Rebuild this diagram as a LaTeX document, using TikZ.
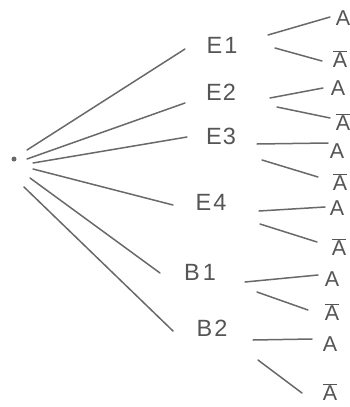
\documentclass[tikz,border=0pt]{standalone}
\usepackage{fontspec}
\setmainfont{Liberation Sans}
\definecolor{ink}{RGB}{105,105,105}
\definecolor{txt}{RGB}{85,85,85}
\newcommand\nA{$\overline{\mbox{A}}$}
\tikzset{
  branch/.style={draw=ink, line width=1.5pt, line cap=round},
  evt/.style={inner sep=0pt, text height=17pt, text depth=0pt, font=\fontsize{23.5}{24}\selectfont, text=txt},
  res/.style={inner sep=0pt, text height=15.5pt, text depth=0pt, font=\fontsize{21.5}{22}\selectfont, text=txt},
  dot/.style={circle, fill=ink, inner sep=0pt, minimum size=5pt}
}
\begin{document}
\begin{tikzpicture}[x=1pt,y=-1pt]
\useasboundingbox (0,0) rectangle (350,407);
\node[dot] (root) at (14,159) {};
% level 1
\node[evt] (e1) at (222,45) {E\kern2pt1};
\node[evt] (e2) at (221,92) {E\kern1pt2};
\node[evt] (e3) at (221,136) {E\kern1pt3};
\node[evt] (e4) at (211,202) {E\kern2pt4};
\node[evt] (b1) at (200,272) {B\kern3pt1};
\node[evt] (b2) at (212,328) {B\kern2pt2};
% level 2
\node[res] (a1) at (343,18) {A};
\node[res] (n1) at (340,60) {\nA};
\node[res] (a2) at (338,88) {A};
\node[res] (n2) at (343,123) {\nA};
\node[res] (a3) at (337,151) {A};
\node[res] (n3) at (340,183) {\nA};
\node[res] (a4) at (337,208) {A};
\node[res] (n4) at (339,248) {\nA};
\node[res] (a5) at (332,279) {A};
\node[res] (n5) at (332,313) {\nA};
\node[res] (a6) at (330,344) {A};
\node[res] (n6) at (330,393) {\nA};
% root branches
\draw[branch] ([shift={(13,-9)}]root.center) -- ([shift={(-37,4)}]e1.center);
\draw[branch] ([shift={(13,0)}]root.center) -- ([shift={(-36,11)}]e2.center);
\draw[branch] ([shift={(19,4)}]root.center) -- ([shift={(-34,1)}]e3.center);
\draw[branch] ([shift={(19,10)}]root.center) -- ([shift={(-38,3)}]e4.center);
\draw[branch] ([shift={(16,19)}]root.center) -- ([shift={(-40,1)}]b1.center);
\draw[branch] ([shift={(10,28)}]root.center) -- ([shift={(-39,3)}]b2.center);
% second level branches
\draw[branch] ([shift={(46,-10)}]e1.center) -- ([shift={(-13,-1)}]a1.center);
\draw[branch] ([shift={(53,3)}]e1.center) -- ([shift={(-18,1)}]n1.center);
\draw[branch] ([shift={(49,6)}]e2.center) -- ([shift={(-15,0)}]a2.center);
\draw[branch] ([shift={(56,15)}]e2.center) -- ([shift={(-13,-5)}]n2.center);
\draw[branch] ([shift={(36,8)}]e3.center) -- ([shift={(-9,-8)}]a3.center);
\draw[branch] ([shift={(41,24)}]e3.center) -- ([shift={(-22,-6)}]n3.center);
\draw[branch] ([shift={(48,9)}]e4.center) -- ([shift={(-12,-1)}]a4.center);
\draw[branch] ([shift={(49,22)}]e4.center) -- ([shift={(-22,-6)}]n4.center);
\draw[branch] ([shift={(45,10)}]b1.center) -- ([shift={(-14,-4)}]a5.center);
\draw[branch] ([shift={(57,20)}]b1.center) -- ([shift={(-24,-3)}]n5.center);
\draw[branch] ([shift={(41,12)}]b2.center) -- ([shift={(-18,-5)}]a6.center);
\draw[branch] ([shift={(46,32)}]b2.center) -- ([shift={(-28,0)}]n6.center);
\end{tikzpicture}
\end{document}
